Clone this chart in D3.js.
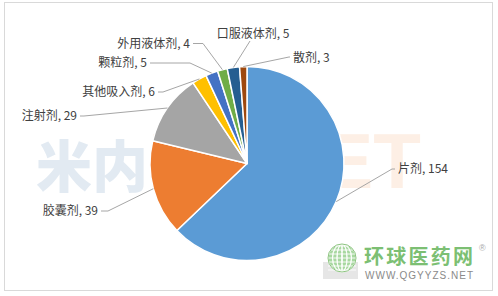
<!DOCTYPE html>
<html><head><meta charset="utf-8">
<script src="https://cdn.jsdelivr.net/npm/d3@7"></script>
<style>body{margin:0;background:#fff}svg{display:block}</style>
</head><body>
<svg id="c" width="498" height="296"></svg>
<script>
const categories = ["片剂","胶囊剂","注射剂","其他吸入剂","颗粒剂","外用液体剂","口服液体剂","散剂"];
const values = [154,39,29,6,5,4,5,3];
const colors = ["#5B9BD5","#ED7D31","#A5A5A5","#FFC000","#4472C4","#70AD47","#255E91","#9E480E"];
// label layout: label anchor point, text-anchor, elbow point of leader line
const labelLayout = [
  {x:398,y:169,anchor:"start",ex:392,ey:169},
  {x:98,y:211,anchor:"end",ex:108,ey:211},
  {x:77,y:116,anchor:"end",ex:84,ey:116},
  {x:155,y:92,anchor:"end",ex:163,ey:92},
  {x:147,y:63,anchor:"end",ex:190,ey:63},
  {x:190,y:43.5,anchor:"end",ex:203,ey:43.5},
  {x:253,y:33.5,anchor:"middle",ex:250,ey:41},
  {x:293,y:58,anchor:"start",ex:289,ey:57}
];

const svg = d3.select("#c");
const cx = 247, cy = 163.5, r = 97;

// border
svg.append("rect").attr("x",4.5).attr("y",2.5).attr("width",488).attr("height",288)
  .attr("fill","#fff").attr("stroke","#d9d9d9");

// watermark
svg.append("text").attr("x",36).attr("y",187).attr("font-family","Noto Sans CJK SC")
  .attr("font-weight","900").attr("font-size",56).attr("fill","#e2eaf2").text("米内");
svg.append("text").attr("x",421).attr("y",188).attr("text-anchor","end").attr("font-family","Liberation Sans")
  .attr("font-weight","bold").attr("font-size",78).attr("fill","#fdefe5").text("MENET");

const data = categories.map((c,i)=>({cat:c,value:values[i],color:colors[i]}));
const pie = d3.pie().sort(null).value(d=>d.value);
const arcs = pie(data);
const arc = d3.arc().innerRadius(0).outerRadius(r);

const g = svg.append("g").attr("transform",`translate(${cx},${cy})`);
g.selectAll("path").data(arcs).join("path")
  .attr("d",arc).attr("fill",d=>d.data.color)
  .attr("stroke","#fff").attr("stroke-width",1.5).attr("stroke-linejoin","round");

// leader lines & labels
arcs.forEach((a,i)=>{
  const m = (a.startAngle+a.endAngle)/2;
  const px = cx + r*Math.sin(m), py = cy - r*Math.cos(m);
  const L = labelLayout[i];
  let tx;
  if (L.anchor==="start") tx = L.x-3; else if (L.anchor==="end") tx = L.x+3; else tx = L.ex;
  const pts = L.anchor==="middle" ? [[px,py],[L.ex,L.ey]] : [[px,py],[L.ex,L.ey],[tx,L.ey]];
  svg.append("path").attr("d",d3.line()(pts)).attr("fill","none")
    .attr("stroke","#a6a6a6").attr("stroke-width",1);
  svg.append("text").attr("x",L.x).attr("y",L.y).attr("dy","0.36em")
    .attr("text-anchor",L.anchor)
    .attr("font-family","'Noto Sans CJK SC', sans-serif").attr("font-size",12)
    .attr("fill","#404040").text(a.data.cat + ", " + a.data.value);
});

// logo
const logo = svg.append("g");
logo.append("path").attr("d","M323,262 L358,262 L358,279 L323,279 Z").attr("fill","#e6e6e6");
const gc = logo.append("g").attr("transform","translate(342,258)");
gc.append("circle").attr("r",14).attr("fill","#a8d8a0");
for (let k=-3;k<=3;k++){
  gc.append("ellipse").attr("rx",Math.abs(k)*4.5+0.5).attr("ry",14).attr("fill","none").attr("stroke","#fff").attr("stroke-width",0.9);
  gc.append("line").attr("x1",-14).attr("x2",14).attr("y1",k*4).attr("y2",k*4).attr("stroke","#fff").attr("stroke-width",0.9);
}
gc.append("circle").attr("r",14).attr("fill","none").attr("stroke","#8cc47f").attr("stroke-width",1);
logo.append("text").attr("x",364).attr("y",264).attr("font-family","Noto Sans CJK SC").attr("font-weight","bold")
  .attr("font-size",20).attr("fill","#7cbf73").attr("textLength",109).text("环球医药网");
logo.append("text").attr("x",365).attr("y",279).attr("font-family","Liberation Sans")
  .attr("font-size",10).attr("fill","#8a8a8a").attr("textLength",108).text("WWW.QGYYZS.NET");
logo.append("text").attr("x",479).attr("y",251).attr("font-family","Liberation Sans")
  .attr("font-size",9).attr("fill","#aaa").text("®");
</script>
</body></html>
